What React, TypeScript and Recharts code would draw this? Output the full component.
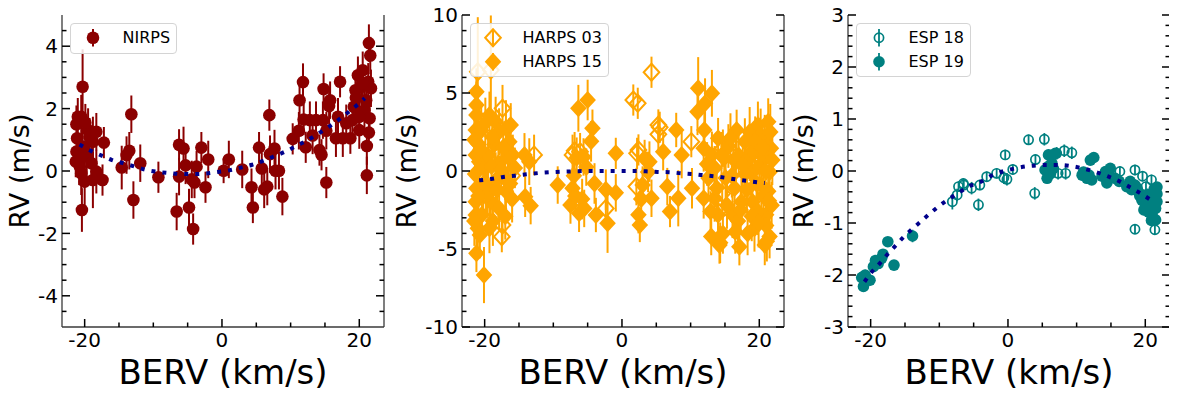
import React from 'react';
import { ComposedChart, Scatter, XAxis, YAxis, ErrorBar, Legend } from 'recharts';

// ---- data ----
const nirpsX = [-20.3, -21.0, -20.5, -21.2, -21.1, -21.2, -20.8, -20.7, -20.5, -20.0, -19.5, -19.3, -18.8, -18.3, -19.7, -19.0, -18.3, -18.8, -17.4, -17.2, -20.4, -20.3, -19.9, -21.3,
  -13.2, -14.6, -13.9, -13.5, -11.9, -12.9, -9.26, -6.25, -5.6, -6.25, -6.6, -5.3, -4.8, -4.2, -4.4, -4.0, -3.7, -3.0, -2.0, -2.4, 0.24, 1.0,
  2.95, 4.3, 4.5, 5.4, 5.8, 6.15, 6.6, 6.9, 7.0, 7.65, 7.8, 8.3, 8.8, 10.3, 11.2, 11.3, 11.8, 12.2, 11.9, 12.8, 13.2, 13.7, 14.2, 14.5, 14.8,
  15.2, 15.6, 15.75, 15.2, 14.7, 16.9, 17.2, 16.6, 17.6, 18.1, 18.7, 19.2, 19.45, 19.8, 20.0, 20.3, 20.5, 20.75, 21.0, 21.1, 21.1, 21.4, 21.6,
  21.5, 21.4, 21.7, 21.3, 20.5, 19.5, 20.0, 19.0];
const nirpsY = [2.7, 1.74, 1.74, 1.5, 1.05, 0.62, 0.35, 0.14, -0.07, -0.34, 1.31, 1.1, 0.94, 1.26, 0.46, 0.25, -0.02, -0.29, -0.29, 0.91, -1.25, 0.78, 1.55, 0.3,
  1.82, 0.11, 0.51, 0.65, 0.25, -0.93, -0.2, 0.84, 0.72, -0.18, -1.3, 0.18, -1.17, -1.86, -0.27, -0.37, 0.14, 0.75, 0.37, -0.52, 0.01, 0.37,
  0.05, -0.52, -1.17, 0.75, 0.08, -0.59, -0.5, 1.79, 0.54, 0.72, 0.01, 0.01, -0.82, 1.03, 1.29, 2.27, 2.85, 0.76, 1.65, 1.63, 1.14, 1.63, 0.67, 0.52, 2.63,
  1.29, 2.08, 2.27, -0.37, 1.63, 1.74, 2.86, 1.05, 1.05, 1.53, 1.05, 2.06, 2.59, 3.07, 1.31, 2.7, 3.23, 1.95, 2.27, 0.8, -0.14, 4.1, 3.7,
  1.69, 1.23, 2.65, 2.86, 2.8, 2.35, 1.74, 1.63];
const nirpsErr = [1.2, 0.6, 0.7, 0.6, 0.7, 0.6, 0.8, 0.6, 0.7, 0.8, 0.7, 0.6, 0.8, 0.6, 0.7, 0.6, 0.7, 0.9, 0.5, 0.5, 0.7, 0.6, 0.6, 0.5,
  0.6, 0.7, 0.6, 0.6, 0.6, 0.6, 0.5, 0.5, 0.7, 0.6, 0.6, 0.6, 0.6, 0.5, 0.6, 0.5, 0.5, 0.5, 0.6, 0.5, 0.4, 0.6,
  0.6, 0.6, 0.5, 0.5, 0.5, 0.6, 0.6, 0.5, 0.6, 0.6, 0.6, 0.6, 0.6, 0.5, 0.6, 0.6, 0.6, 0.5, 0.5, 0.6, 0.6, 0.6, 0.5, 0.5, 0.5,
  0.6, 0.6, 0.6, 0.5, 0.6, 0.6, 0.5, 0.6, 0.6, 0.6, 0.5, 0.6, 0.6, 0.6, 0.6, 0.6, 0.6, 0.6, 0.6, 0.6, 0.6, 0.6, 0.6,
  0.6, 0.6, 0.6, 0.6, 0.6, 0.6, 0.6, 0.6];

const harps03X = [-21.0, -19.1, -17.4, -17.4, -17.5, -12.8, -7.2, -6.9, -6.1, -2.35, 4.3, 1.65, 2.3, 5.3, 5.5, 5.3, 2.4, 2.1, 2.2, 10.1, 14.7, 19.3, 14.6, 14.0, 16.2, -16.0];
const harps03Y = [6.36, 6.47, 4.02, -3.46, -4.21, 1.03, 1.03, 1.3, 1.24, -2.4, 6.33, 4.55, 4.34, 2.95, 2.8, 2.35, 1.35, -1.0, 1.13, 1.88, 1.46, 0.15, -1.45, -2.6, 0.9, -0.3];
const harps03Err = [3.5, 3.5, 1.5, 1.2, 1.0, 1.3, 1.3, 1.2, 1.2, 1.2, 1.0, 1.0, 1.0, 1.0, 1.0, 1.0, 1.0, 1.2, 1.0, 1.0, 1.2, 1.2, 1.2, 1.2, 1.2, 1.4];

const harps15X = [-21.2, -21.2, -21.2, -21.3, -21.0, -21.3, -20.8, -21.4, -21.2, -21.3, -21.3, -21.0, -21.2, -20.1, -19.3, -18.4, -17.9, -16.9, -16.2, -16.4,
  -15.9, -16.9, -18.4, -19.1, -19.3, -17.9, -20.4, -20.0, -19.5, -18.0, -17.0, -19.8, -18.6, -14.2, -13.5, -14.1, -13.3, -9.36, -6.6, -6.35,
  -5.0, -4.3, -4.5, -5.2, -7.2, -7.5, -6.25, -5.8, -5.5, -3.8, -2.1, -2.35, -0.9, -0.9, 3.3, 3.8, 4.3, 2.4, 2.6, 6.0,
  6.6, 7.0, 7.9, 8.7, 8.2, 10.2, 11.1, 11.0, 12.1, 13.1, 12.0, 11.9, 13.1, 14.0, 13.0, 14.2, 14.7, 13.5, 14.0, 16.7,
  17.1, 16.4, 16.6, 16.1, 17.9, 18.6, 18.8, 19.0, 19.3, 19.8, 20.3, 20.8, 21.3, 20.8, 21.5, 21.0, 21.3, 21.5, 21.7, 20.3,
  19.8, 17.9, 17.4, 18.6, 14.9, 15.1, 12.6, 12.4, 11.9, 12.9, 21.1, 14.3, 15.5, 16.0, 20.0, 21.0, 19.0, 17.0,
  -21.5, -20.6, -20.2, -19.6, -20.9, -19.0, -18.2, -17.6, -16.6, -16.0, -15.6, -20.5, -19.9, -18.9, -17.3, -20.7, -18.8, -17.0, -21.5, -16.3,
  13.5, 14.5, 15.8, 16.9, 17.6, 18.2, 18.9, 19.6, 20.2, 20.6, 21.0, 21.6, 21.8, 20.9, 19.4, 18.3, 17.3, 16.5, 15.3, 13.8, 21.9, 21.4, 20.5, 19.9,
  -7.0, -5.6, -4.0, -6.8, 3.0, 4.0, 2.8];
const harps15Y = [5.08, 4.23, 3.59, 2.63, 1.77, 1.03, 0.6, -0.2, -1.1, -1.97, -2.82, -3.67, -5.28, -6.67, 3.59, 3.16, 2.52, 2.74, 2.95, 1.88,
  1.03, -1.3, -0.6, -1.97, -3.67, -2.4, -2.8, 0.2, 1.0, 0.5, -0.5, -1.0, 1.7, 1.03, 0.6, -1.65, -2.22, -0.9, 0.85, 4.02,
  4.55, 2.74, 1.9, 0.25, -1.1, -2.18, -2.71, -1.8, -2.4, -2.82, -3.35, -1.2, 1.13, -1.4, 0.8, -0.06, -1.75, -2.8, -3.46, 1.24,
  -1.0, -2.6, 2.63, 1.03, -1.75, -1.1, 5.3, 3.8, 4.34, 4.98, 2.63, 1.46, 1.03, 2.1, -4.2, -4.74, -4.0, -1.75, -2.8, 2.63,
  -4.85, -1.1, 0.6, -2.8, 1.88, 2.5, -0.06, -1.97, -3.67, 2.95, 1.03, 2.1, 3.16, -4.74, -4.2, -2.8, -1.3, -0.06, 1.46, -0.9,
  -2.6, -0.2, -1.97, 0.85, 0.85, -0.45, -0.45, 0.45, -1.75, -2.6, -4.5, -4.6, 1.6, -0.3, 0.3, 0.9, 1.3, 1.0,
  2.0, 1.4, -0.8, -1.5, -1.6, 0.3, -1.2, 0.1, 0.9, -1.8, 0.2, 2.6, 3.1, 2.2, 1.5, -4.1, -3.2, -2.9, -3.2, -0.8,
  0.2, 1.0, 2.1, -3.2, 0.4, -1.2, -2.9, -0.8, 2.3, -1.6, -3.5, 2.5, -2.2, 0.0, 1.9, -4.0, -2.5, -3.9, -2.2, -1.1, 0.7, -1.9, 1.5, -3.3,
  -0.3, 0.9, -0.8, -1.6, -0.9, 0.6, -1.8];
const harps15Err = [1.5, 1.5, 1.5, 1.8, 2.0, 1.5, 2.0, 1.8, 1.5, 1.6, 1.5, 1.6, 1.2, 1.8, 1.5, 1.6, 1.5, 1.8, 1.4, 1.5,
  1.3, 1.5, 1.8, 1.5, 1.6, 1.4, 1.5, 1.7, 1.5, 1.6, 1.3, 1.6, 1.4, 1.4, 1.5, 1.3, 1.2, 1.2, 1.3, 1.5,
  1.3, 1.2, 1.3, 1.2, 1.3, 1.2, 1.2, 1.3, 1.2, 1.1, 1.9, 1.3, 1.0, 1.2, 1.2, 1.3, 1.2, 1.2, 1.1, 1.2,
  1.2, 1.0, 1.1, 1.5, 1.8, 1.3, 2.0, 1.5, 1.6, 1.5, 1.4, 1.5, 1.5, 1.3, 1.2, 1.2, 1.3, 1.5, 1.3, 1.3,
  1.2, 1.5, 1.5, 1.5, 1.5, 1.6, 1.5, 1.5, 1.5, 1.5, 1.5, 1.5, 1.5, 1.3, 1.4, 1.5, 1.5, 1.5, 1.5, 1.5,
  1.5, 1.5, 1.5, 1.5, 1.3, 1.3, 1.4, 1.4, 1.3, 1.3, 1.3, 1.3, 1.4, 1.4, 1.5, 1.5, 1.4, 1.4,
  1.6, 1.5, 1.7, 1.5, 1.6, 1.4, 1.5, 1.6, 1.4, 1.5, 1.3, 1.8, 1.6, 1.5, 1.4, 1.5, 1.6, 1.5, 1.6, 1.4,
  1.4, 1.5, 1.6, 1.4, 1.5, 1.5, 1.6, 1.5, 1.7, 1.5, 1.6, 1.8, 1.5, 1.5, 1.6, 1.4, 1.5, 1.4, 1.5, 1.4, 1.6, 1.5, 1.5, 1.6,
  1.3, 1.2, 1.3, 1.2, 1.2, 1.3, 1.2];

const esp18X = [-8.1, -7.2, -6.5, -5.3, -4.3, -4.1, -3.1, -1.65, -0.4, -0.6, 0.7, -0.15, 3.0, 5.3, 3.9, 4.0, 7.1, 8.2, 9.3, 7.3, 8.4, 16.3, 18.5, 18.5, 20.9, 21.4, 20.1, 19.6, -7.4, -6.45];
const esp18Y = [-0.59, -0.3, -0.24, -0.33, -0.65, -0.27, -0.11, -0.045, 0.31, -0.13, 0.03, -0.16, 0.6, 0.61, -0.43, 0.22, 0.34, 0.39, 0.35, -0.045, -0.045, -0.01, 0.02, -1.12, -0.17, -1.13, -0.3, -0.1, -0.46, -0.27];
const esp18Err = [0.15, 0.1, 0.1, 0.12, 0.12, 0.1, 0.1, 0.1, 0.1, 0.12, 0.1, 0.12, 0.1, 0.12, 0.12, 0.1, 0.12, 0.12, 0.12, 0.12, 0.12, 0.1, 0.1, 0.08, 0.1, 0.1, 0.1, 0.1, 0.12, 0.1];

const esp19X = [-21.05, -21.05, -20.6, -20.1, -19.6, -18.9, -18.4, -18.2, -17.5, -16.6, -13.9, -21.3, 5.9, 6.4, 6.9, 5.4, 5.7, 5.9, 10.8, 11.5, 12.2, 12.0, 12.5,
  14.2, 14.7, 14.4, 15.6, 17.3, 18.0, 18.5, 19.0, 19.5, 20.0, 20.5, 21.0, 21.5, 21.7, 21.7, 21.7, 21.2, 20.5, 21.2, 19.8, 14.9, 6.2, 11.0,
  19.2, 20.3, 20.8, 21.5, 21.3, 20.9, 18.8, 17.8, 16.2, 13.7, 11.8, 6.6, 6.0, -19.3, -20.8];
const esp19Y = [-2.03, -2.22, -2.07, -2.1, -1.84, -1.78, -1.68, -1.6, -1.36, -1.81, -1.25, -2.05, 0.31, 0.15, 0.34, 0.02, -0.14, 0.09, -0.08, -0.14, -0.17, 0.21, 0.26,
  -0.01, -0.04, -0.23, -0.14, -0.3, -0.36, -0.27, -0.4, -0.56, -0.69, -0.79, -0.85, -0.94, -0.59, -0.44, -0.31, -0.5, -0.56, -0.69, -0.75, 0.05, -0.05, -0.02,
  -0.48, -0.45, -0.62, -0.72, -0.35, -0.95, -0.33, -0.2, -0.2, -0.1, -0.08, 0.05, -0.02, -1.72, -2.0];
const esp19Err = [0.1, 0.1, 0.1, 0.1, 0.08, 0.08, 0.08, 0.08, 0.08, 0.06, 0.12, 0.1, 0.1, 0.1, 0.1, 0.1, 0.1, 0.1, 0.1, 0.1, 0.1, 0.1, 0.1,
  0.1, 0.1, 0.1, 0.1, 0.1, 0.1, 0.1, 0.1, 0.1, 0.1, 0.1, 0.1, 0.1, 0.1, 0.1, 0.1, 0.1, 0.1, 0.1, 0.1, 0.1, 0.1, 0.1,
  0.1, 0.1, 0.1, 0.1, 0.1, 0.1, 0.1, 0.1, 0.1, 0.1, 0.1, 0.1, 0.1, 0.08, 0.1];

// fitted curves (blue dotted)
const fit1X = [-20.75, -19.2, -17.6, -16.0, -14.4, -12.65, -10.95, -9.26, -7.5, -5.8, -4.1, -2.4, -0.6, 1.07, 2.76, 4.4, 6.15, 7.7, 9.3, 10.9, 12.4, 13.9, 15.4, 16.8, 18.2, 19.5, 20.8];
const fit1Y = [0.85, 0.66, 0.5, 0.35, 0.25, 0.14, 0.03, -0.03, -0.07, -0.1, -0.1, -0.08, -0.03, 0.02, 0.11, 0.2, 0.34, 0.48, 0.63, 0.81, 0.98, 1.18, 1.39, 1.61, 1.85, 2.08, 2.33];
const fit2X = [-20.8, -19.1, -17.3, -15.6, -13.9, -12.1, -10.4, -8.6, -6.9, -5.2, -3.4, -1.7, 0.04, 1.7, 3.5, 5.2, 6.9, 8.7, 10.4, 12.1, 13.9, 15.6, 17.3, 19.0, 20.8];
const fit2Y = [-0.6, -0.51, -0.38, -0.3, -0.21, -0.13, -0.08, -0.04, -0.02, 0, 0, 0, 0, 0, -0.02, -0.06, -0.08, -0.15, -0.2, -0.28, -0.36, -0.47, -0.58, -0.68, -0.77];
const fit3X = [-20.9, -19.9, -18.7, -17.6, -16.4, -15.2, -13.9, -12.6, -11.3, -9.9, -8.5, -7.1, -5.6, -4.0, -2.4, -0.8, 1.0, 2.7, 4.4, 6.05, 7.75, 9.45, 11.2, 12.8, 14.5, 16.1, 17.6, 19.2, 20.6];
const fit3Y = [-2.13, -1.95, -1.78, -1.61, -1.44, -1.27, -1.11, -0.96, -0.81, -0.66, -0.53, -0.41, -0.29, -0.21, -0.09, -0.01, 0.05, 0.09, 0.11, 0.115, 0.115, 0.09, 0.04, -0.02, -0.1, -0.19, -0.3, -0.42, -0.54];

const xMajor = [-20, 0, 20];
const xTicks = [-20, -15, -10, -5, 0, 5, 10, 15, 20];

const FONT = '"DejaVu Sans", sans-serif';
const FIT_COLOR = '#00008b';
const SPINE = { stroke: '#3a3a3a', strokeWidth: 1.3 };

const zip = (xs: number[], ys: number[], es?: number[]) => xs.map((x, i) => ({ x, y: ys[i], e: es ? es[i] : 0 }));
const steps = (a: number, b: number, s: number) => {
  const out: number[] = [];
  for (let v = a; v <= b + 1e-9; v += s) out.push(Math.round(v * 100) / 100);
  return out;
};
const hasVal = (arr: number[], v: number) => arr.some((m) => Math.abs(m - v) < 1e-6);

function MarkerShape({ cx, cy, shape, open, color, size }: any) {
  if (cx == null || cy == null) return null;
  if (shape === 'diamond') {
    const d = `M${cx},${cy - size} L${cx + size * 0.92},${cy} L${cx},${cy + size} L${cx - size * 0.92},${cy} Z`;
    return <path d={d} fill={open ? 'none' : color} stroke={color} strokeWidth={open ? 2 : 0} />;
  }
  return <circle cx={cx} cy={cy} r={size} fill={open ? 'none' : color} stroke={color} strokeWidth={open ? 1.7 : 0} />;
}

function makeTick(side: string, majors: number[]) {
  return (props: any) => {
    const { x, y, payload } = props;
    const v = payload.value;
    const major = hasVal(majors, v);
    const len = major ? 8 : 4.5;
    let line;
    if (side === 'bottom') line = <line x1={x} y1={y} x2={x} y2={y - len} />;
    else if (side === 'top') line = <line x1={x} y1={y} x2={x} y2={y + len} />;
    else if (side === 'left') line = <line x1={x} y1={y} x2={x + len} y2={y} />;
    else line = <line x1={x} y1={y} x2={x - len} y2={y} />;
    return (
      <g>
        <g stroke="#000" strokeWidth={1.5}>{line}</g>
        {major && side === 'bottom' && (
          <text x={x} y={y + 20} textAnchor="middle" fontSize={20} fontFamily={FONT} fill="#000">{String(v)}</text>
        )}
        {major && side === 'left' && (
          <text x={x - 4} y={y} dy="0.36em" textAnchor="end" fontSize={20} fontFamily={FONT} fill="#000">{String(v)}</text>
        )}
      </g>
    );
  };
}

type Pt = { x: number; y: number; e: number };
type SeriesCfg = { name: string; data: Pt[]; color: string; shape: string; open: boolean; size: number; barW: number };

function LegendBox({ series }: { series: SeriesCfg[] }) {
  return (
    <div style={{ border: '1px solid #d4d4d4', borderRadius: 4, background: 'rgba(255,255,255,0.85)', padding: '2px 6px 3px 0', fontFamily: FONT }}>
      {series.map((s) => (
        <div key={s.name} style={{ display: 'flex', alignItems: 'center', height: 23.5 }}>
          <svg width={40} height={23.5} style={{ display: 'block' }}>
            <line x1={22} y1={3} x2={22} y2={20.5} stroke={s.color} strokeWidth={s.barW} />
            <MarkerShape cx={22} cy={11.75} shape={s.shape} open={s.open} color={s.color} size={s.size} />
          </svg>
          <span style={{ marginLeft: 11.5, fontSize: 16, color: '#000', lineHeight: '23.5px', whiteSpace: 'nowrap' }}>{s.name}</span>
        </div>
      ))}
    </div>
  );
}

type PanelCfg = {
  plotLeft: number;
  axisW: number;
  yDomain: [number, number];
  yMajor: number[];
  yTicks: number[];
  yLabelX: number;
  series: SeriesCfg[];
  fit: Pt[];
};

const PLOT_W = 322;
const RIGHT_W = 6;
const CHART_H = 398;

function Panel({ cfg }: { cfg: PanelCfg }) {
  const chartW = cfg.axisW + PLOT_W + RIGHT_W;
  return (
    <div style={{ position: 'absolute', left: cfg.plotLeft - cfg.axisW, top: 0 }}>
      <ComposedChart width={chartW} height={CHART_H} margin={{ top: 15, right: 0, bottom: 0, left: 0 }}>
        <XAxis xAxisId="b" dataKey="x" type="number" domain={[-23.3, 23.6]} allowDataOverflow ticks={xTicks} interval={0}
          tickSize={0} tickMargin={0} tickLine={false} axisLine={SPINE} height={71}
          tick={makeTick('bottom', xMajor)}
          label={{
            content: ({ viewBox }: any) => (
              <text x={viewBox.x + viewBox.width / 2} y={viewBox.y + 57} textAnchor="middle" fontSize={34} fontFamily={FONT} fill="#000">BERV (km/s)</text>
            ),
          }} />
        <XAxis xAxisId="t" orientation="top" dataKey="x" type="number" domain={[-23.3, 23.6]} allowDataOverflow ticks={xTicks} interval={0}
          tickSize={0} tickMargin={0} tickLine={false} axisLine={SPINE} height={0}
          tick={makeTick('top', xMajor)} />
        <YAxis yAxisId="l" dataKey="y" type="number" domain={cfg.yDomain} allowDataOverflow ticks={cfg.yTicks} interval={0}
          tickSize={0} tickMargin={0} tickLine={false} axisLine={SPINE} width={cfg.axisW}
          tick={makeTick('left', cfg.yMajor)}
          label={{
            content: ({ viewBox }: any) => {
              const cx = viewBox.x + viewBox.width - cfg.yLabelX;
              const cy = viewBox.y + viewBox.height / 2;
              return (
                <text x={cx} y={cy} dy="0.36em" transform={`rotate(-90, ${cx}, ${cy})`} textAnchor="middle" fontSize={27} fontFamily={FONT} fill="#000">RV (m/s)</text>
              );
            },
          }} />
        <YAxis yAxisId="r" orientation="right" dataKey="y" type="number" domain={cfg.yDomain} allowDataOverflow ticks={cfg.yTicks} interval={0}
          tickSize={0} tickMargin={0} tickLine={false} axisLine={SPINE} width={RIGHT_W}
          tick={makeTick('right', cfg.yMajor)} />
        {cfg.series.map((s) => (
          <Scatter key={s.name} name={s.name} data={s.data} xAxisId="b" yAxisId="l" fill={s.color} isAnimationActive={false}
            shape={(p: any) => <MarkerShape cx={p.cx} cy={p.cy} shape={s.shape} open={s.open} color={s.color} size={s.size} />}>
            <ErrorBar dataKey="e" direction="y" width={0} stroke={s.color} strokeWidth={s.barW} isAnimationActive={false} />
          </Scatter>
        ))}
        {/* fit curve drawn as a scatter line so it sits above the data markers */}
        <Scatter name="fit" data={cfg.fit} xAxisId="b" yAxisId="l" isAnimationActive={false} legendType="none"
          line={{ stroke: FIT_COLOR, strokeWidth: 4, strokeDasharray: '4 7', fill: 'none' }} lineJointType="monotoneX"
          shape={() => <g />} />
        <Legend layout="vertical" align="center" verticalAlign="middle"
          wrapperStyle={{ top: 23, left: cfg.axisW + 8, width: 'auto', height: 'auto' }}
          content={() => <LegendBox series={cfg.series} />} />
      </ComposedChart>
    </div>
  );
}

const panels: PanelCfg[] = [
  {
    plotLeft: 62,
    axisW: 60,
    yDomain: [-5, 5],
    yMajor: [-4, -2, 0, 2, 4],
    yTicks: steps(-4.5, 4.5, 0.5),
    yLabelX: 43,
    series: [{ name: 'NIRPS', data: zip(nirpsX, nirpsY, nirpsErr), color: '#8b0000', shape: 'circle', open: false, size: 6.3, barW: 2 }],
    fit: zip(fit1X, fit1Y),
  },
  {
    plotLeft: 462,
    axisW: 75,
    yDomain: [-10, 10],
    yMajor: [-10, -5, 0, 5, 10],
    yTicks: steps(-10, 10, 1),
    yLabelX: 56,
    series: [
      { name: 'HARPS 03', data: zip(harps03X, harps03Y, harps03Err), color: '#ffa500', shape: 'diamond', open: true, size: 8.5, barW: 2 },
      { name: 'HARPS 15', data: zip(harps15X, harps15Y, harps15Err), color: '#ffa500', shape: 'diamond', open: false, size: 9, barW: 2 },
    ],
    fit: zip(fit2X, fit2Y),
  },
  {
    plotLeft: 848,
    axisW: 60,
    yDomain: [-3, 3],
    yMajor: [-3, -2, -1, 0, 1, 2, 3],
    yTicks: steps(-3, 3, 0.2),
    yLabelX: 45,
    series: [
      { name: 'ESP 18', data: zip(esp18X, esp18Y, esp18Err), color: '#008080', shape: 'circle', open: true, size: 4.6, barW: 1.8 },
      { name: 'ESP 19', data: zip(esp19X, esp19Y, esp19Err), color: '#008080', shape: 'circle', open: false, size: 5.8, barW: 1.8 },
    ],
    fit: zip(fit3X, fit3Y),
  },
];

export default function App() {
  return (
    <div style={{ position: 'relative', width: 1177, height: 398, margin: '-8px 0 0 -8px', overflow: 'hidden', background: '#fff' }}>
      {panels.map((p, i) => (
        <Panel key={i} cfg={p} />
      ))}
    </div>
  );
}
